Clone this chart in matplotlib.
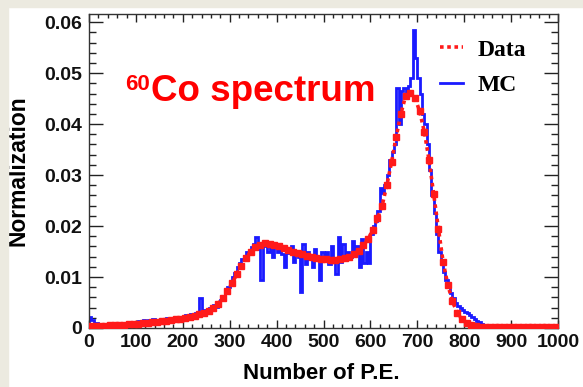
import numpy as np
import matplotlib
matplotlib.use('Agg')
import matplotlib.pyplot as plt
from matplotlib.patches import Rectangle
from matplotlib.ticker import MultipleLocator

# 数据: 测量谱 (10 P.E. 一格)
data_pe = np.arange(5, 1000, 10)
data_norm = [
    0.0003, 0.0003, 0.0004, 0.0004, 0.0005, 0.0005, 0.0006, 0.0006, 0.0007, 0.0007,
    0.0008, 0.0009, 0.0010, 0.0011, 0.0012, 0.0013, 0.0014, 0.0015, 0.0017, 0.0018,
    0.0020, 0.0022, 0.0024, 0.0027, 0.0030, 0.0034, 0.0040, 0.0048, 0.0058, 0.0072,
    0.0088, 0.0105, 0.0122, 0.0138, 0.0150, 0.0158, 0.0163, 0.0166, 0.0165, 0.0163,
    0.0160, 0.0157, 0.0153, 0.0150, 0.0147, 0.0145, 0.0142, 0.0140, 0.0138, 0.0136,
    0.0135, 0.0134, 0.0134, 0.0135, 0.0137, 0.0140, 0.0145, 0.0152, 0.0162, 0.0175,
    0.0192, 0.0215, 0.0240, 0.0280, 0.0325, 0.0375, 0.0420, 0.0455, 0.0462, 0.0452,
    0.0425, 0.0385, 0.0330, 0.0262, 0.0195, 0.0130, 0.0085, 0.0052, 0.0030, 0.0017,
    0.0010, 0.0006, 0.0003, 0.0002, 0.0002, 0.0001, 0.0001, 0.0001, 0.0001, 0.0001,
    0.0001, 0.0001, 0.0001, 0.0001, 0.0001, 0.0001, 0.0001, 0.0001, 0.0001, 0.0001,
]

# MC 直方图 (5 P.E. 一格)
mc_edges = np.arange(0, 1005, 5)
mc_norm = [
    0.0022, 0.0015, 0.0008, 0.0010, 0.0007, 0.0006, 0.0007, 0.0005, 0.0006, 0.0005,
    0.0006, 0.0008, 0.0007, 0.0009, 0.0008, 0.0010, 0.0009, 0.0011, 0.0010, 0.0012,
    0.0011, 0.0013, 0.0012, 0.0015, 0.0013, 0.0016, 0.0014, 0.0017, 0.0015, 0.0016,
    0.0016, 0.0018, 0.0017, 0.0019, 0.0018, 0.0020, 0.0019, 0.0021, 0.0020, 0.0022,
    0.0022, 0.0025, 0.0023, 0.0028, 0.0026, 0.0030, 0.0028, 0.0058, 0.0031, 0.0036,
    0.0035, 0.0040, 0.0038, 0.0045, 0.0042, 0.0050, 0.0055, 0.0062, 0.0070, 0.0080,
    0.0088, 0.0100, 0.0108, 0.0120, 0.0128, 0.0135, 0.0142, 0.0150, 0.0148, 0.0158,
    0.0165, 0.0178, 0.0155, 0.0095, 0.0160, 0.0170, 0.0150, 0.0165, 0.0140, 0.0158,
    0.0150, 0.0165, 0.0145, 0.0120, 0.0155, 0.0148, 0.0160, 0.0130, 0.0150, 0.0140,
    0.0070, 0.0165, 0.0125, 0.0150, 0.0135, 0.0120, 0.0155, 0.0140, 0.0095, 0.0150,
    0.0140, 0.0150, 0.0125, 0.0160, 0.0135, 0.0105, 0.0178, 0.0130, 0.0165, 0.0140,
    0.0150, 0.0140, 0.0170, 0.0145, 0.0160, 0.0120, 0.0175, 0.0127, 0.0150, 0.0127,
    0.0185, 0.0200, 0.0210, 0.0230, 0.0275, 0.0265, 0.0280, 0.0300, 0.0330, 0.0345,
    0.0360, 0.0470, 0.0400, 0.0465, 0.0470, 0.0460, 0.0475, 0.0490, 0.0585, 0.0530,
    0.0490, 0.0460, 0.0420, 0.0400, 0.0360, 0.0310, 0.0260, 0.0225, 0.0185, 0.0150,
    0.0130, 0.0110, 0.0095, 0.0080, 0.0068, 0.0058, 0.0050, 0.0044, 0.0040, 0.0036,
    0.0032, 0.0030, 0.0026, 0.0022, 0.0018, 0.0014, 0.0011, 0.0008, 0.0006, 0.0004,
    0.0003, 0.0003, 0.0002, 0.0002, 0.0002, 0.0002, 0.0001, 0.0001, 0.0001, 0.0001,
    0.0001, 0.0001, 0.0001, 0.0001, 0.0001, 0.0001, 0.0001, 0.0001, 0.0001, 0.0001,
    0.0001, 0.0001, 0.0001, 0.0001, 0.0001, 0.0001, 0.0001, 0.0001, 0.0001, 0.0001,
]

x_ticks = list(range(0, 1001, 100))
y_ticks = [0, 0.01, 0.02, 0.03, 0.04, 0.05, 0.06]
y_ticklabels = ['0', '0.01', '0.02', '0.03', '0.04', '0.05', '0.06']

plt.rcParams['font.family'] = ['Liberation Sans', 'DejaVu Sans']
plt.rcParams['font.weight'] = 'bold'

fig = plt.figure(figsize=(5.83, 3.87), dpi=100)
fig.patch.set_facecolor('white')
# 背景米色边条
beige = '#ECEAE0'
fig.patches.append(Rectangle((0, 0), 8 / 583, 1, transform=fig.transFigure, color=beige, zorder=0))
fig.patches.append(Rectangle((0, 1 - 7 / 387), 1, 7 / 387, transform=fig.transFigure, color=beige, zorder=0))

ax = fig.add_axes([89 / 583, 59 / 387, 469 / 583, 314 / 387])

ax.stairs(mc_norm, mc_edges, color='#1a1aff', lw=2.0, label='MC', zorder=2)
ax.plot(data_pe, data_norm, color='#ff1a1a', ls=(0, (1, 1)), lw=2.6, marker='s', ms=4.2,
        label='Data', zorder=3)

ax.set_xlim(0, 1000)
ax.set_ylim(0, 0.0616)
ax.set_xticks(x_ticks)
ax.set_yticks(y_ticks)
ax.set_yticklabels(y_ticklabels)
ax.xaxis.set_minor_locator(MultipleLocator(20))
ax.yaxis.set_minor_locator(MultipleLocator(0.002))
ax.tick_params(axis='x', which='major', direction='in', length=6, width=1, top=True,
               labelsize=14, pad=4, colors='#222222')
ax.tick_params(axis='x', which='minor', direction='in', length=3, width=1, top=True, colors='#222222')
ax.tick_params(axis='y', which='major', direction='in', length=10, width=1, right=True,
               labelsize=14, pad=5, colors='#222222')
ax.tick_params(axis='y', which='minor', direction='in', length=5, width=1, right=True, colors='#222222')
for lbl in ax.get_xticklabels() + ax.get_yticklabels():
    lbl.set_fontweight('bold')
    lbl.set_color('#111111')
for sp in ax.spines.values():
    sp.set_color('#333333')
    sp.set_linewidth(1.0)

ax.set_xlabel('Number of P.E.', fontsize=16, fontweight='bold')
ax.set_ylabel('Normalization', fontsize=16.5, fontweight='bold')
ax.xaxis.set_label_coords(0.495, -0.112)
ax.yaxis.set_label_coords(-0.127, 0.5)

# 标题文字 60Co spectrum
fig.text(125 / 583, 1 - 90 / 387, '60', color='#ff0000', fontsize=16, fontweight='bold',
         ha='left', va='baseline')
fig.text(151 / 583, 1 - 101 / 387, 'Co spectrum', color='#ff0000', fontsize=26.5,
         fontweight='bold', ha='left', va='baseline')

handles, labels = ax.get_legend_handles_labels()
leg = ax.legend(handles[::-1], labels[::-1], loc='upper left', bbox_to_anchor=(0.748, 0.92),
                frameon=False, borderpad=0, borderaxespad=0,
                handlelength=1.0, handletextpad=0.6, labelspacing=0.6,
                prop={'family': ['Liberation Serif', 'DejaVu Serif'], 'weight': 'bold', 'size': 17})
for h in leg.legend_handles:
    h.set_marker('')

fig.savefig('out.png', dpi=100)
